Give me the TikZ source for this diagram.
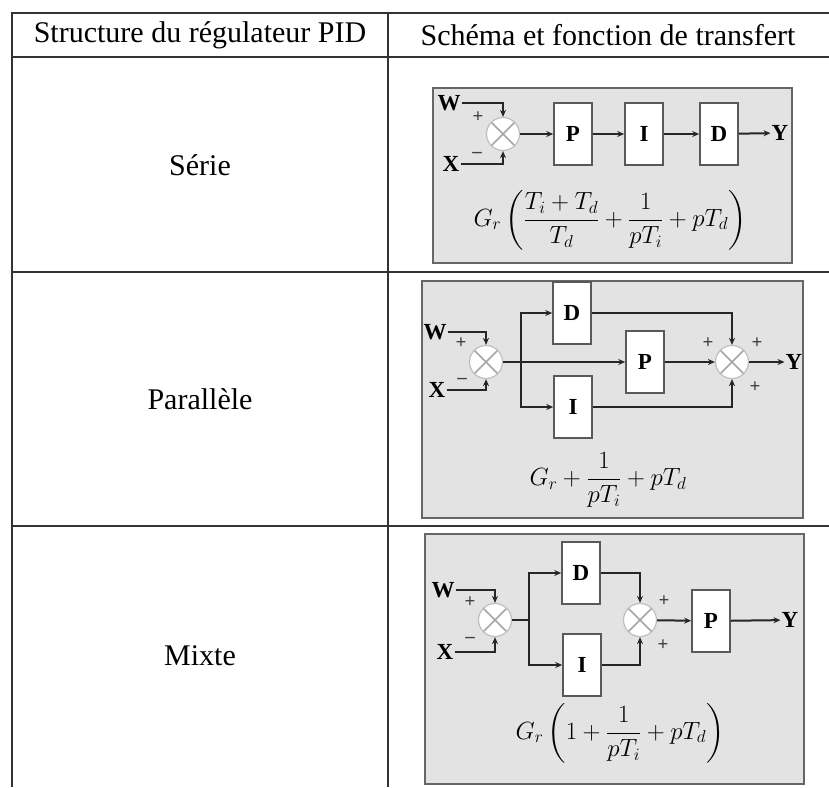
\documentclass[tikz,border=0pt]{standalone}
\usepackage{fontspec}
\setmainfont{Liberation Serif}
\usepackage{amsmath}
\usetikzlibrary{arrows.meta,positioning,calc}
\tikzset{
  panel/.style={draw=black!60,line width=2pt,fill=black!11},
  blockbox/.style={draw=black!65,line width=1.6pt,fill=white,minimum width=38pt,minimum height=62pt,inner sep=0pt,font=\bfseries\fontsize{23}{25}\selectfont},
  sumnode/.style={circle,draw=black!25,line width=1.2pt,fill=white,minimum size=33pt,inner sep=0pt,
    path picture={\draw[black!35,line width=1.6pt] (path picture bounding box.north west) -- (path picture bounding box.south east)
      (path picture bounding box.north east) -- (path picture bounding box.south west);}},
  sig/.style={draw=black!85,line width=2pt,-{Stealth[length=7pt,width=6pt]}},
  wire/.style={draw=black!85,line width=2pt},
  io/.style={font=\bfseries\fontsize{23}{25}\selectfont,inner sep=1pt},
  sgn/.style={font=\bfseries\fontsize{19}{19}\selectfont,text=black!75,inner sep=0pt},
  formula/.style={font=\fontsize{25}{30}\selectfont},
  cell/.style={font=\fontsize{30}{34}\selectfont}
}
\begin{document}
\begin{tikzpicture}[x=1pt,y=-1pt]
  \useasboundingbox (0,0) rectangle (829,787);
  \draw[black!80,line width=1.4pt] (12,787) -- (12,13) -- (829,13);
  \draw[black!80,line width=1.4pt] (12,57) -- (829,57);
  \draw[black!80,line width=1.4pt] (12,272) -- (829,272);
  \draw[black!80,line width=1.4pt] (12,526) -- (829,526);
  \draw[black!80,line width=1.4pt] (388,13) -- (388,787);
  \node[cell] (hdrA) at (200,35) {Structure du régulateur PID};
  \node[cell] (hdrB) at (608,35) {Schéma et fonction de transfert};
  \node[cell] (rowA) at (200,165) {Série};
  \node[cell] (rowB) at (200,399) {Parallèle};
  \node[cell] (rowC) at (200,656) {Mixte};

  \draw[panel] (433,88) rectangle (792,263);
  \node[io] (w1) at (449,103) {W};
  \node[io] (x1) at (451,164) {X};
  \node[sumnode] (s1) at (503,134) {};
  \node[sgn] at (478,117) {+};
  \node[sgn] at (477,155) {–};
  \node[blockbox] (p1) at (573,134) {P};
  \node[blockbox] (i1) at (644,134) {I};
  \node[blockbox] (d1) at (719,134) {D};
  \node[io] (y1) at (780,133) {Y};
  \draw[sig] (w1.east) -| (s1.north);
  \draw[sig] (x1.east) -| (s1.south);
  \draw[sig] (s1) -- (p1);
  \draw[sig] (p1) -- (i1);
  \draw[sig] (i1) -- (d1);
  \draw[sig] (d1) -- (y1);
  \node[formula] (f1) at (610,220) {$G_r\left(\dfrac{T_i+T_d}{T_d}+\dfrac{1}{pT_i}+pT_d\right)$};

  \draw[panel] (422,281) rectangle (803,518);
  \node[io] (w2) at (435,332) {W};
  \node[io] (x2) at (437,390) {X};
  \node[sumnode] (s2) at (486,362) {};
  \node[sgn] at (461,343) {+};
  \node[sgn] at (462,381) {–};
  \coordinate (b2) at (521,362);
  \node[blockbox] (d2) at (572,313) {D};
  \node[blockbox] (p2) at (645,362) {P};
  \node[blockbox] (i2) at (573,407) {I};
  \node[sumnode] (t2) at (732,362) {};
  \node[sgn] at (708,343) {+};
  \node[sgn] at (757,343) {+};
  \node[sgn] at (755,387) {+};
  \node[io] (y2) at (794,362) {Y};
  \draw[sig] (w2.east) -| (s2.north);
  \draw[sig] (x2.east) -| (s2.south);
  \draw[sig] (s2) -- (p2);
  \draw[sig] (b2) |- (d2.west);
  \draw[sig] (b2) |- (i2.west);
  \draw[sig] (d2.east) -| (t2.north);
  \draw[sig] (i2.east) -| (t2.south);
  \draw[sig] (p2) -- (t2);
  \draw[sig] (t2) -- (y2);
  \node[formula] (f2) at (608,480) {$G_r+\dfrac{1}{pT_i}+pT_d$};

  \draw[panel] (425,534) rectangle (804,784);
  \node[io] (w3) at (443,590) {W};
  \node[io] (x3) at (445,652) {X};
  \node[sumnode] (s3) at (495,620) {};
  \node[sgn] at (470,602) {+};
  \node[sgn] at (470,640) {–};
  \coordinate (b3) at (529,620);
  \node[blockbox] (d3) at (581,573) {D};
  \node[blockbox] (i3) at (582,665) {I};
  \node[sumnode] (t3) at (640,620) {};
  \node[sgn] at (664,601) {+};
  \node[sgn] at (663,645) {+};
  \node[blockbox] (p3) at (711,621) {P};
  \node[io] (y3) at (790,620) {Y};
  \draw[sig] (w3.east) -| (s3.north);
  \draw[sig] (x3.east) -| (s3.south);
  \draw[wire] (s3) -- (b3);
  \draw[sig] (b3) |- (d3.west);
  \draw[sig] (b3) |- (i3.west);
  \draw[sig] (d3.east) -| (t3.north);
  \draw[sig] (i3.east) -| (t3.south);
  \draw[sig] (t3) -- (p3);
  \draw[sig] (p3) -- (y3);
  \node[formula] (f3) at (620,733) {$G_r\left(1+\dfrac{1}{pT_i}+pT_d\right)$};
\end{tikzpicture}
\end{document}
